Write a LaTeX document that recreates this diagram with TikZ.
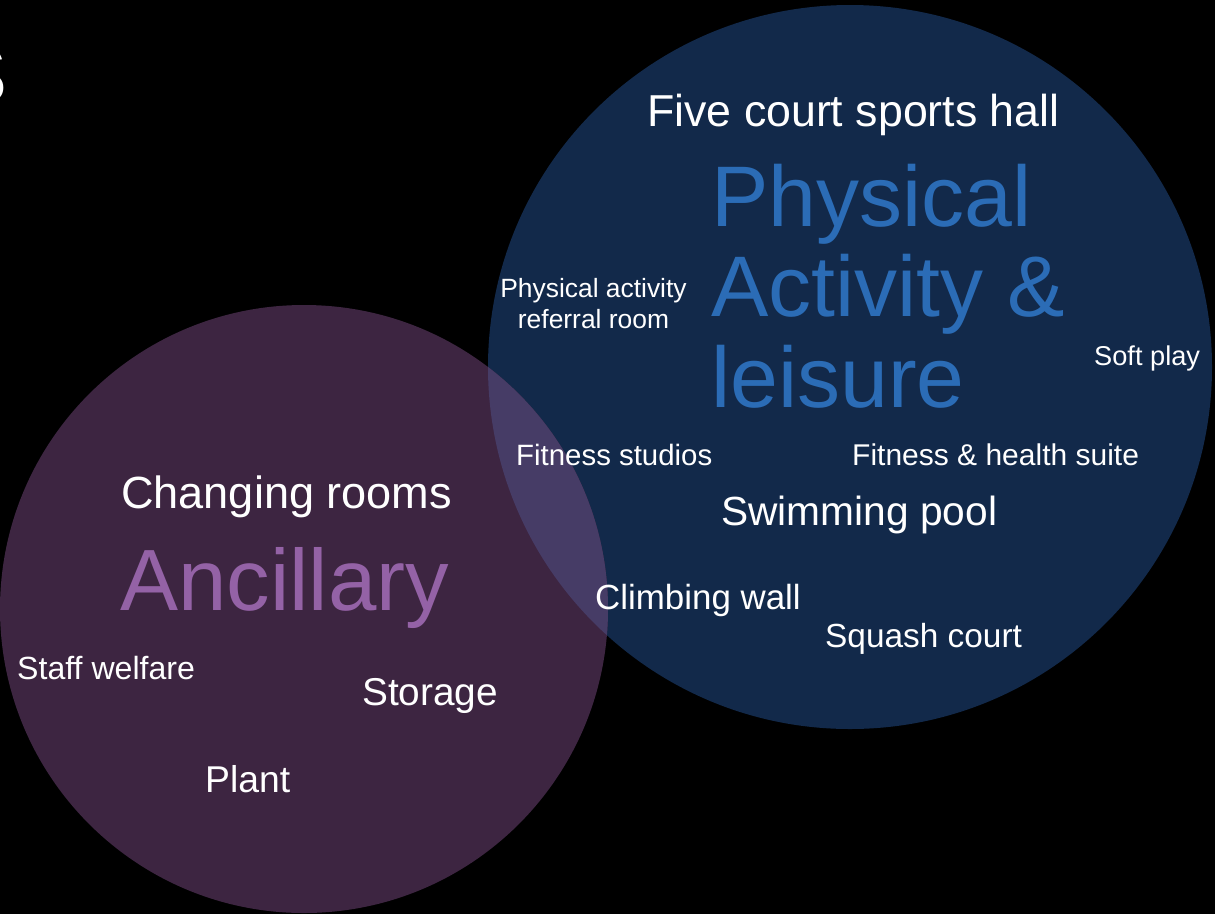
\documentclass[tikz,border=0pt]{standalone}
\usepackage{fontspec}
\setmainfont{Liberation Sans}
\definecolor{bgblue}{HTML}{12294A}
\definecolor{bgpurple}{HTML}{3D2541}
\definecolor{bgmix}{HTML}{463C66}
\definecolor{txtblue}{HTML}{2B6CB6}
\definecolor{txtpurple}{HTML}{9462A6}
\newcommand{\fs}[2]{\fontsize{#1}{#2}\selectfont}
\tikzset{%
    lbl/.style={text=white, anchor=base west, inner sep=0pt},
    ttl/.style={anchor=base west, inner sep=0pt, align=left}
}

\begin{document}
\begin{tikzpicture}[x=1pt,y=-1pt]
    \fill[black] (0,0) rectangle (1215,914);
    \useasboundingbox (0,0) rectangle (1215,914);
    % circles
    \coordinate (PA) at (850,367);
    \coordinate (AN) at (304,609);
    \fill [bgblue] (PA) circle [radius=362];
    \fill [bgpurple] (AN) circle [radius=304];
    \begin{scope}
        \clip (PA) circle [radius=362];
        \fill [bgmix] (AN) circle [radius=304];
    \end{scope}
    % cut-off heading letter
    \node [lbl,anchor=base east,font={\fs{81}{81}}] (hd) at (8,103) {S};
    % titles (base = last line)
    \node [ttl,text=txtblue,font={\fs{86}{90.5}}] (pal) at (711,407) {Physical\\Activity \&\\leisure};
    \node [ttl,text=txtpurple,font={\fs{87}{87}}] (anc) at (120,610) {Ancillary};
    % rooms
    \node [lbl,font={\fs{44.7}{45}}] (hall) at (647,126) {Five court sports hall};
    \node [lbl,anchor=base,align=center,font={\fs{26.4}{31}}] (refer) at (593.5,328) {Physical activity\\referral room};
    \node [lbl,font={\fs{27.2}{27}}] (soft) at (1094,365) {Soft play};
    \node [lbl,font={\fs{29.4}{30}}] (studio) at (516,465) {Fitness studios};
    \node [lbl,font={\fs{30}{30}}] (suite) at (852,465) {Fitness \& health suite};
    \node [lbl,font={\fs{40.7}{41}}] (pool) at (721,525) {Swimming pool};
    \node [lbl,font={\fs{34.9}{35}}] (climb) at (595,609) {Climbing wall};
    \node [lbl,font={\fs{33.4}{33}}] (squash) at (825,647) {Squash court};
    \node [lbl,font={\fs{45.1}{45}}] (change) at (121,508) {Changing rooms};
    \node [lbl,font={\fs{32.1}{32}}] (staff) at (17,679) {Staff welfare};
    \node [lbl,font={\fs{38.8}{39}}] (store) at (362,705) {Storage};
    \node [lbl,font={\fs{37.3}{37}}] (plant) at (205,792) {Plant};
\end{tikzpicture}
\end{document}
